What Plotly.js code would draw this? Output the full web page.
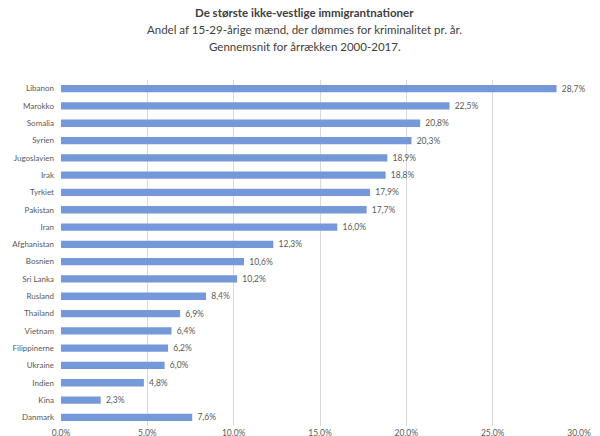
<!DOCTYPE html>
<html>
<head>
<meta charset="utf-8">
<script src="https://cdn.plot.ly/plotly-3.0.1.min.js"></script>
<style>html,body{margin:0;padding:0;background:#fff;}#chart{width:600px;height:436px;}</style>
</head>
<body>
<div id="chart"></div>
<script>
var countries = ["Libanon","Marokko","Somalia","Syrien","Jugoslavien","Irak","Tyrkiet","Pakistan","Iran","Afghanistan","Bosnien","Sri Lanka","Rusland","Thailand","Vietnam","Filippinerne","Ukraine","Indien","Kina","Danmark"];
var values = [28.7,22.5,20.8,20.3,18.9,18.8,17.9,17.7,16.0,12.3,10.6,10.2,8.4,6.9,6.4,6.2,6.0,4.8,2.3,7.6];
var labels = values.map(function(v){return '\u00a0' + v.toFixed(1).replace('.',',')+'%';});
var titleLines = ["<b>De største ikke-vestlige immigrantnationer</b>","Andel af 15-29-årige mænd, der dømmes for kriminalitet pr. år.","Gennemsnit for årrækken 2000-2017."];
var titleY = [1.196, 1.145, 1.098];

var fontFam = "Lato, 'Open Sans', sans-serif";
var trace = {
  type: 'bar',
  orientation: 'h',
  x: values,
  y: countries,
  text: labels,
  textposition: 'outside',
  constraintext: 'none',
  cliponaxis: false,
  textfont: {family: fontFam, size: 8.5, color: '#595959'},
  marker: {color: '#7498d8', line: {width: 0}},
  hoverinfo: 'none'
};
var annotations = titleLines.map(function(t, i){
  return {text: t, xref: 'paper', yref: 'paper', x: 0.471, y: titleY[i],
          xanchor: 'center', yanchor: 'middle', showarrow: false,
          font: {family: fontFam, size: 11.5, color: '#404040'}};
});
var layout = {
  width: 600, height: 436,
  margin: {l: 61, r: 21, t: 80, b: 10},
  paper_bgcolor: '#fff', plot_bgcolor: '#fff',
  separators: ',.',
  showlegend: false,
  bargap: 0.58,
  font: {family: fontFam, color: '#595959', size: 8.5},
  annotations: annotations,
  xaxis: {
    range: [0, 30], dtick: 5, tickformat: '.1f', ticksuffix: '%',
    showgrid: true, gridcolor: '#d9d9d9', gridwidth: 1,
    zeroline: false, showline: false, ticks: '',
    tickfont: {family: fontFam, size: 8.5, color: '#595959'}
  },
  yaxis: {
    autorange: 'reversed', type: 'category',
    showgrid: false, zeroline: false, showline: false, ticks: '',
    ticklabelstandoff: 6,
    tickfont: {family: fontFam, size: 8, color: '#595959'}
  }
};
Plotly.newPlot('chart', [trace], layout, {staticPlot: true, displayModeBar: false});
</script>
</body>
</html>
